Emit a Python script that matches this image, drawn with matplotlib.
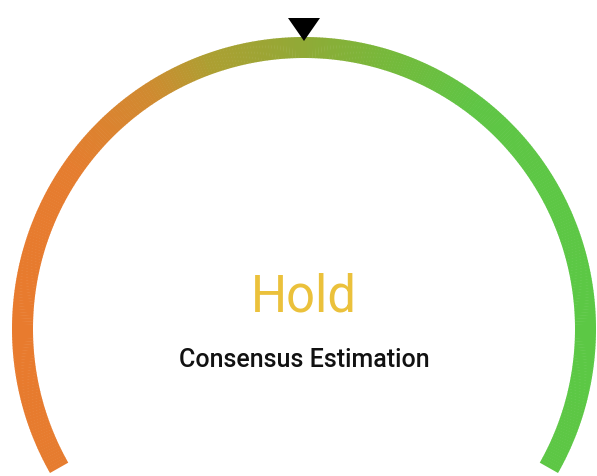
import matplotlib.pyplot as plt
import numpy as np
from matplotlib.patches import Wedge, Polygon
from matplotlib.colors import LinearSegmentedColormap

# gauge data
gauge_min = 0.0
gauge_max = 1.0
gauge_value = 0.5
rating_label = "Hold"
caption = "Consensus Estimation"
# horizontal gradient stops (fraction of width, colour)
gradient_pos = [0.0, 0.12, 0.25, 0.35, 0.5, 0.65, 0.8, 1.0]
gradient_colors = ["#E97A2E", "#E57D2F", "#D08A30", "#AD9F32", "#92A936",
                   "#76B93B", "#5FC545", "#5CC845"]

W, H = 597, 476
cx, cy = 304, H - 329
r_outer = 292
band = 21
start_deg, end_deg = 209.5, -29.5

fig = plt.figure(figsize=(W / 100, H / 100), dpi=100)
ax = fig.add_axes([0, 0, 1, 1])
ax.set_xlim(0, W)
ax.set_ylim(0, H)
ax.set_aspect("equal")
ax.axis("off")

cmap = LinearSegmentedColormap.from_list("gauge", list(zip(gradient_pos, gradient_colors)))
n = 400
edges = np.linspace(start_deg, end_deg, n + 1)
r_mid = r_outer - band / 2
for i in range(n):
    a0, a1 = sorted((edges[i], edges[i + 1]))
    xm = cx + r_mid * np.cos(np.radians((a0 + a1) / 2))
    ax.add_patch(Wedge((cx, cy), r_outer, a0 - 0.05, a1 + 0.05, width=band,
                       facecolor=cmap(np.clip(xm / W, 0, 1)), edgecolor="none"))

# pointer
frac = (gauge_value - gauge_min) / (gauge_max - gauge_min)
ang = np.radians(start_deg + frac * (end_deg - start_deg))
ux, uy = np.cos(ang), np.sin(ang)
px, py = -uy, ux
tip_r = r_outer - 4
base_r = tip_r + 23
half = 16
tip = (cx + tip_r * ux, cy + tip_r * uy)
bl = (cx + base_r * ux + half * px, cy + base_r * uy + half * py)
br = (cx + base_r * ux - half * px, cy + base_r * uy - half * py)
ax.add_patch(Polygon([tip, bl, br], closed=True, facecolor="black", edgecolor="none", zorder=5))

ax.text(cx, H - 297, rating_label, ha="center", va="center", fontsize=36.5,
        color="#EBC13B", family="Roboto")
ax.text(cx, H - 360, caption, ha="center", va="center", fontsize=18,
        color="#111111", family="Roboto", weight="medium")

fig.savefig("out.png", dpi=100)
